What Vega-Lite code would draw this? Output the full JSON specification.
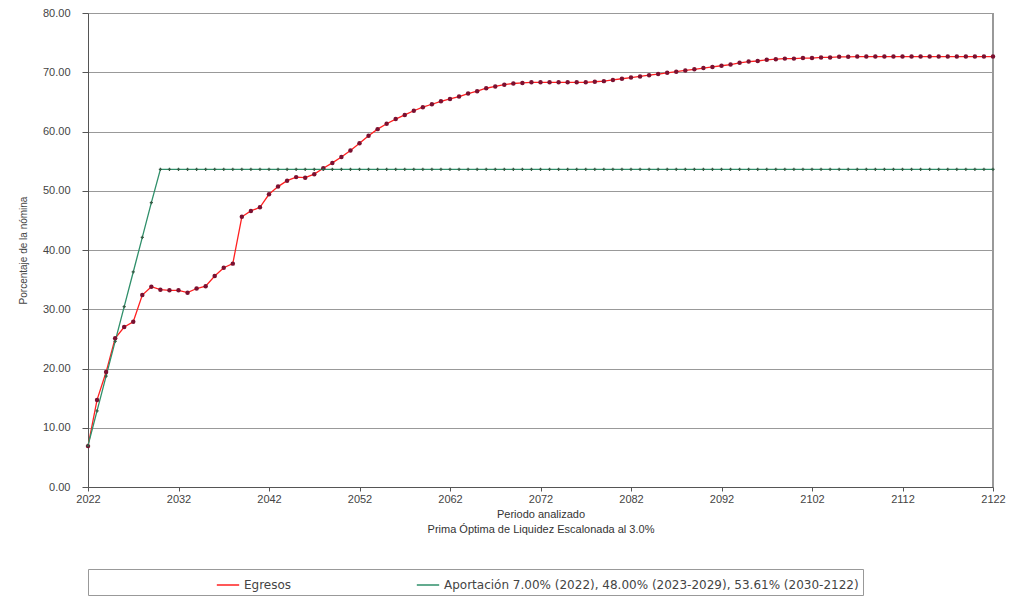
{
  "$schema": "https://vega.github.io/schema/vega-lite/v6.json",
  "width": 905,
  "height": 474,
  "padding": {"left": 18, "top": 7, "right": 17, "bottom": 5},
  "background": "white",
  "config": {
    "font": "Liberation Sans",
    "view": {"stroke": null},
    "axis": {"labelFont": "Liberation Sans", "titleFont": "Liberation Sans"}
  },
  "data": {"values": [
    {"anio": 2022, "E": 6.9, "A": 7.0},
    {"anio": 2023, "E": 14.7, "A": 12.86},
    {"anio": 2024, "E": 19.4, "A": 18.71},
    {"anio": 2025, "E": 25.1, "A": 24.57},
    {"anio": 2026, "E": 27.0, "A": 30.43},
    {"anio": 2027, "E": 27.9, "A": 36.29},
    {"anio": 2028, "E": 32.4, "A": 42.14},
    {"anio": 2029, "E": 33.8, "A": 48.0},
    {"anio": 2030, "E": 33.3, "A": 53.61},
    {"anio": 2031, "E": 33.2, "A": 53.61},
    {"anio": 2032, "E": 33.2, "A": 53.61},
    {"anio": 2033, "E": 32.8, "A": 53.61},
    {"anio": 2034, "E": 33.5, "A": 53.61},
    {"anio": 2035, "E": 33.9, "A": 53.61},
    {"anio": 2036, "E": 35.6, "A": 53.61},
    {"anio": 2037, "E": 37.0, "A": 53.61},
    {"anio": 2038, "E": 37.7, "A": 53.61},
    {"anio": 2039, "E": 45.6, "A": 53.61},
    {"anio": 2040, "E": 46.6, "A": 53.61},
    {"anio": 2041, "E": 47.2, "A": 53.61},
    {"anio": 2042, "E": 49.4, "A": 53.61},
    {"anio": 2043, "E": 50.7, "A": 53.61},
    {"anio": 2044, "E": 51.7, "A": 53.61},
    {"anio": 2045, "E": 52.3, "A": 53.61},
    {"anio": 2046, "E": 52.2, "A": 53.61},
    {"anio": 2047, "E": 52.8, "A": 53.61},
    {"anio": 2048, "E": 53.8, "A": 53.61},
    {"anio": 2049, "E": 54.7, "A": 53.61},
    {"anio": 2050, "E": 55.7, "A": 53.61},
    {"anio": 2051, "E": 56.8, "A": 53.61},
    {"anio": 2052, "E": 58.0, "A": 53.61},
    {"anio": 2053, "E": 59.3, "A": 53.61},
    {"anio": 2054, "E": 60.4, "A": 53.61},
    {"anio": 2055, "E": 61.3, "A": 53.61},
    {"anio": 2056, "E": 62.1, "A": 53.61},
    {"anio": 2057, "E": 62.8, "A": 53.61},
    {"anio": 2058, "E": 63.5, "A": 53.61},
    {"anio": 2059, "E": 64.1, "A": 53.61},
    {"anio": 2060, "E": 64.6, "A": 53.61},
    {"anio": 2061, "E": 65.1, "A": 53.61},
    {"anio": 2062, "E": 65.5, "A": 53.61},
    {"anio": 2063, "E": 65.9, "A": 53.61},
    {"anio": 2064, "E": 66.4, "A": 53.61},
    {"anio": 2065, "E": 66.8, "A": 53.61},
    {"anio": 2066, "E": 67.3, "A": 53.61},
    {"anio": 2067, "E": 67.6, "A": 53.61},
    {"anio": 2068, "E": 67.9, "A": 53.61},
    {"anio": 2069, "E": 68.1, "A": 53.61},
    {"anio": 2070, "E": 68.2, "A": 53.61},
    {"anio": 2071, "E": 68.3, "A": 53.61},
    {"anio": 2072, "E": 68.3, "A": 53.61},
    {"anio": 2073, "E": 68.3, "A": 53.61},
    {"anio": 2074, "E": 68.3, "A": 53.61},
    {"anio": 2075, "E": 68.3, "A": 53.61},
    {"anio": 2076, "E": 68.3, "A": 53.61},
    {"anio": 2077, "E": 68.3, "A": 53.61},
    {"anio": 2078, "E": 68.4, "A": 53.61},
    {"anio": 2079, "E": 68.5, "A": 53.61},
    {"anio": 2080, "E": 68.7, "A": 53.61},
    {"anio": 2081, "E": 68.9, "A": 53.61},
    {"anio": 2082, "E": 69.1, "A": 53.61},
    {"anio": 2083, "E": 69.3, "A": 53.61},
    {"anio": 2084, "E": 69.5, "A": 53.61},
    {"anio": 2085, "E": 69.7, "A": 53.61},
    {"anio": 2086, "E": 69.9, "A": 53.61},
    {"anio": 2087, "E": 70.1, "A": 53.61},
    {"anio": 2088, "E": 70.3, "A": 53.61},
    {"anio": 2089, "E": 70.5, "A": 53.61},
    {"anio": 2090, "E": 70.7, "A": 53.61},
    {"anio": 2091, "E": 70.9, "A": 53.61},
    {"anio": 2092, "E": 71.1, "A": 53.61},
    {"anio": 2093, "E": 71.3, "A": 53.61},
    {"anio": 2094, "E": 71.6, "A": 53.61},
    {"anio": 2095, "E": 71.8, "A": 53.61},
    {"anio": 2096, "E": 71.9, "A": 53.61},
    {"anio": 2097, "E": 72.1, "A": 53.61},
    {"anio": 2098, "E": 72.2, "A": 53.61},
    {"anio": 2099, "E": 72.3, "A": 53.61},
    {"anio": 2100, "E": 72.3, "A": 53.61},
    {"anio": 2101, "E": 72.4, "A": 53.61},
    {"anio": 2102, "E": 72.4, "A": 53.61},
    {"anio": 2103, "E": 72.5, "A": 53.61},
    {"anio": 2104, "E": 72.5, "A": 53.61},
    {"anio": 2105, "E": 72.6, "A": 53.61},
    {"anio": 2106, "E": 72.6, "A": 53.61},
    {"anio": 2107, "E": 72.65, "A": 53.61},
    {"anio": 2108, "E": 72.65, "A": 53.61},
    {"anio": 2109, "E": 72.65, "A": 53.61},
    {"anio": 2110, "E": 72.65, "A": 53.61},
    {"anio": 2111, "E": 72.65, "A": 53.61},
    {"anio": 2112, "E": 72.65, "A": 53.61},
    {"anio": 2113, "E": 72.65, "A": 53.61},
    {"anio": 2114, "E": 72.65, "A": 53.61},
    {"anio": 2115, "E": 72.65, "A": 53.61},
    {"anio": 2116, "E": 72.65, "A": 53.61},
    {"anio": 2117, "E": 72.65, "A": 53.61},
    {"anio": 2118, "E": 72.65, "A": 53.61},
    {"anio": 2119, "E": 72.65, "A": 53.61},
    {"anio": 2120, "E": 72.65, "A": 53.61},
    {"anio": 2121, "E": 72.65, "A": 53.61},
    {"anio": 2122, "E": 72.65, "A": 53.61}
  ]},
  "transform": [{"fold": ["E", "A"], "as": ["serie", "valor"]}],
  "encoding": {
    "x": {
      "field": "anio", "type": "quantitative",
      "scale": {"domain": [2022, 2122], "nice": false, "zero": false},
      "axis": {
        "values": [2022, 2032, 2042, 2052, 2062, 2072, 2082, 2092, 2102, 2112, 2122],
        "format": "d", "grid": false,
        "domainColor": "#555", "tickColor": "#555", "tickSize": 4,
        "labelColor": "#444", "labelFontSize": 11, "labelPadding": 2,
        "labelFlush": false,
        "title": ["Periodo analizado", "Prima Óptima de Liquidez Escalonada al 3.0%"],
        "titleFontSize": 11, "titleFontWeight": "normal", "titleColor": "#333", "titlePadding": 4,
        "titleLineHeight": 15
      }
    },
    "y": {
      "field": "valor", "type": "quantitative",
      "scale": {"domain": [0, 80], "nice": false},
      "axis": {
        "values": [0, 10, 20, 30, 40, 50, 60, 70, 80],
        "format": ".2f",
        "grid": true, "gridColor": "#999", "gridWidth": 1,
        "domainColor": "#555", "tickColor": "#555", "tickSize": 6,
        "labelColor": "#444", "labelFontSize": 11, "labelPadding": 12,
        "title": "Porcentaje de la nómina",
        "titleFontSize": 10, "titleFontWeight": "normal", "titleColor": "#444", "titlePadding": 14
      }
    }
  },
  "layer": [
    {
      "mark": {"type": "rule", "color": "#999", "strokeWidth": 1},
      "encoding": {"x": {"datum": 2122}, "y": {"datum": 0}, "y2": {"datum": 80}}
    },
    {
      "mark": {"type": "line", "strokeWidth": 1.3},
      "encoding": {
        "color": {
          "field": "serie", "type": "nominal",
          "scale": {"domain": ["E", "A"], "range": ["#ff2020", "#2f8f6a"]},
          "legend": {
            "orient": "bottom", "direction": "horizontal", "title": null,
            "labelExpr": "datum.value == 'E' ? 'Egresos' : 'Aportación 7.00% (2022), 48.00% (2023-2029), 53.61% (2030-2122)'",
            "labelLimit": 700,
            "symbolType": "stroke", "symbolSize": 500, "symbolStrokeWidth": 1.5,
            "labelFont": "DejaVu Sans", "labelFontSize": 12, "labelColor": "#444",
            "strokeColor": "#999", "padding": 4, "offset": 35,
            "symbolOffset": 124, "columnPadding": 0
          }
        }
      }
    },
    {
      "transform": [{"filter": "datum.serie == 'E'"}],
      "mark": {"type": "point", "filled": true, "shape": "circle", "size": 20, "color": "#7a1030", "opacity": 1}
    },
    {
      "transform": [{"filter": "datum.serie == 'A'"}],
      "mark": {"type": "point", "filled": true, "shape": "cross", "size": 10, "color": "#355c45", "opacity": 1}
    }
  ]
}
